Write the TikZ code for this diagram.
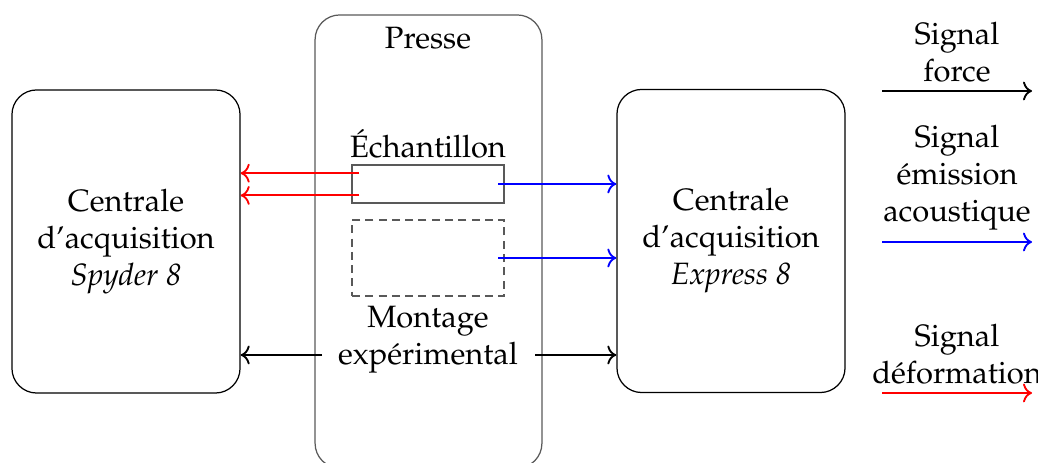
\documentclass[tikz,border=0pt]{standalone}
\usepackage[T1]{fontenc}
\usepackage{mathpazo}
\usetikzlibrary{arrows.meta}
\begin{document}
\begin{tikzpicture}[x=0.324pt,y=-0.324pt,
  bigbox/.style={draw,rounded corners=8pt,minimum width=73.9pt,minimum height=98.2pt,align=center,inner sep=0pt},
  presse/.style={draw=black!65,rounded corners=8pt,minimum width=73.5pt,minimum height=146.8pt,inner sep=0pt},
  smallbox/.style={draw=black!65,minimum width=49.2pt,minimum height=12.3pt,inner sep=0pt},
  dashbox/.style={draw=black!65,dash pattern=on 2.6pt off 1.7pt,minimum width=49.2pt,minimum height=24.6pt,inner sep=0pt},
  txt/.style={align=center,inner sep=0pt},
  sig/.style={->,semithick},
  sigR/.style={sig,red},
  sigB/.style={sig,blue},
  sigK/.style={sig,black}]
\useasboundingbox (0,0) rectangle (1038,463);
% boxes
\node[presse] (pr) at (428.5,241.5) {};
\node[txt] (prt) at (428,38) {Presse};
\node[txt] (echt) at (428,144) {\'Echantillon};
\node[smallbox] (ech) at (428,184) {};
\node[dashbox] (dsh) at (428,258) {};
\node[txt] (mont) at (428,340) {Montage\\exp\'erimental};
\node[bigbox] (spy) at (126,241.5) {Centrale\\d'acquisition\\\textit{Spyder 8}};
\node[bigbox] (exp) at (731,241) {Centrale\\d'acquisition\\\textit{Express 8}};
% signal coordinates
\coordinate (r1) at ([xshift=2.6pt,yshift=3.5pt]ech.west);
\coordinate (r2) at ([xshift=2.6pt,yshift=-3.7pt]ech.west);
\coordinate (b1) at ([xshift=-2pt]ech.east);
\coordinate (b2) at ([xshift=-2pt]dsh.east);
\coordinate (k1) at (322,355);
\coordinate (k2) at (535,355);
\draw[sigR] (r1) -- (spy.east |- r1);
\draw[sigR] (r2) -- (spy.east |- r2);
\draw[sigB] (b1) -- (exp.west |- b1);
\draw[sigB] (b2) -- (exp.west |- b2);
\draw[sigK] (k1) -- (spy.east |- k1);
\draw[sigK] (k2) -- (exp.west |- k2);
% legend
\node[txt] (lf) at (957,52) {Signal\\force};
\coordinate (lf1) at (882,91);
\coordinate (lf2) at (1032,91);
\draw[sigK] (lf1) -- (lf2);
\node[txt] (la) at (957,178) {Signal\\\'emission\\acoustique};
\coordinate (la1) at (882,242);
\coordinate (la2) at (1032,242);
\draw[sigB] (la1) -- (la2);
\node[txt] (ld) at (957,354) {Signal\\d\'eformation};
\coordinate (ld1) at (882,393);
\coordinate (ld2) at (1032,393);
\draw[sigR] (ld1) -- (ld2);
\end{tikzpicture}
\end{document}
